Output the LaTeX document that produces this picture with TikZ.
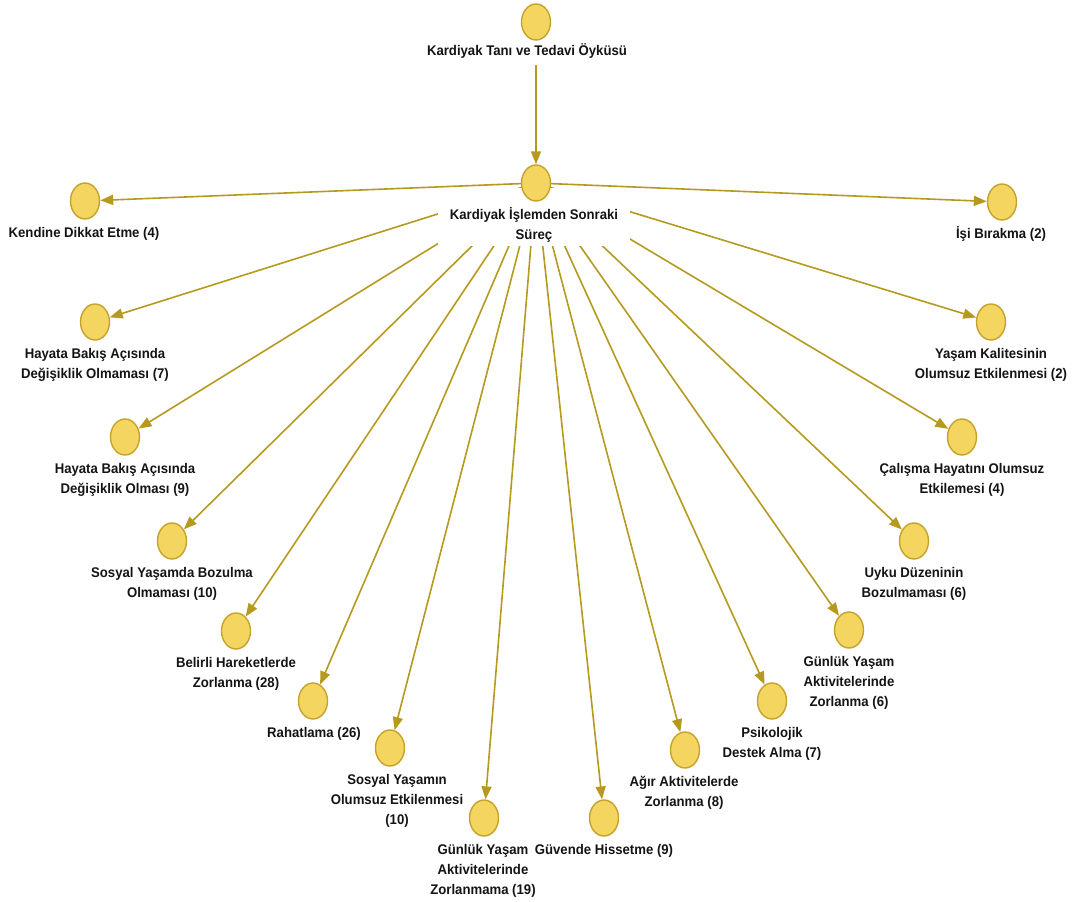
\documentclass[tikz,border=0pt]{standalone}
\usepackage{fontspec}
\usetikzlibrary{arrows.meta,shapes.geometric}
\newfontfamily\lblfont{Liberation Sans}[FakeStretch=0.94]
\definecolor{dotfill}{HTML}{F3D55F}
\definecolor{dotline}{HTML}{C5A22B}
\definecolor{edgecol}{HTML}{B59A1F}
\pgfdeclarelayer{background}
\pgfsetlayers{background,main}
\tikzset{
  dot/.style={ellipse, draw=dotline, fill=dotfill, line width=1.4pt, minimum width=29pt, minimum height=36pt, inner sep=0pt},
  lbl/.style={font=\lblfont\bfseries\fontsize{14}{20}\selectfont, align=center, inner sep=0pt, anchor=north, text=black!92},
  boxlbl/.style={lbl, fill=white, inner xsep=12pt, inner ysep=4pt},
  edge/.style={draw=edgecol, line width=1.6pt, -{Triangle[length=13pt,width=10pt]}}
}
\newcommand\mknode[5]{%
  \node[dot] (#1) at (#2,#3) {};
  \node[lbl] (#1-l) at (#4,#3+22) {\strut #5};
}
\begin{document}
\begin{tikzpicture}[x=1pt,y=-1pt]
\useasboundingbox (0,0) rectangle (1074,902);
% top and hub
\node[boxlbl] (top-l) at (527,37) {\strut Kardiyak Tanı ve Tedavi Öyküsü};
\node[dot] (top) at (536,22) {};
\node[boxlbl] (hub-l) at (534,188) {\rule{0pt}{27pt}Kardiyak İşlemden Sonraki\\Süreç};
\node[dot] (hub) at (536,183) {};
% leaves
\mknode{kde}{85}{201}{84}{Kendine Dikkat Etme (4)}
\mknode{isi}{1002}{202}{1001}{İşi Bırakma (2)}
\mknode{hb7}{95}{322}{95}{Hayata Bakış Açısında\\Değişiklik Olmaması (7)}
\mknode{yk}{991}{322}{991}{Yaşam Kalitesinin\\Olumsuz Etkilenmesi (2)}
\mknode{hb9}{125}{437}{125}{Hayata Bakış Açısında\\Değişiklik Olması (9)}
\mknode{ch}{962}{437}{962}{Çalışma Hayatını Olumsuz\\Etkilemesi (4)}
\mknode{sy}{172}{541}{172}{Sosyal Yaşamda Bozulma\\Olmaması (10)}
\mknode{ud}{914}{541}{914}{Uyku Düzeninin\\Bozulmaması (6)}
\mknode{bh}{236}{631}{236}{Belirli Hareketlerde\\Zorlanma (28)}
\mknode{gy}{849}{630}{849}{Günlük Yaşam\\Aktivitelerinde\\Zorlanma (6)}
\mknode{rh}{313}{701}{314}{Rahatlama (26)}
\mknode{pd}{772}{701}{772}{Psikolojik\\Destek Alma (7)}
\mknode{so}{390}{748}{397}{Sosyal Yaşamın\\Olumsuz Etkilenmesi\\(10)}
\mknode{aa}{685}{750}{684}{Ağır Aktivitelerde\\Zorlanma (8)}
\mknode{gz}{484}{818}{483}{Günlük Yaşam\\Aktivitelerinde\\Zorlanmama (19)}
\mknode{gh}{604}{818}{604}{Güvende Hissetme (9)}
% connectors
\begin{pgfonlayer}{background}
\draw[edge] (top) -- (hub);
\foreach \t in {kde,isi,hb7,yk,hb9,ch,sy,ud,bh,gy,rh,pd,so,aa,gz,gh}
  \draw[edge] (hub.center) -- (\t);
\end{pgfonlayer}
\end{tikzpicture}
\end{document}
